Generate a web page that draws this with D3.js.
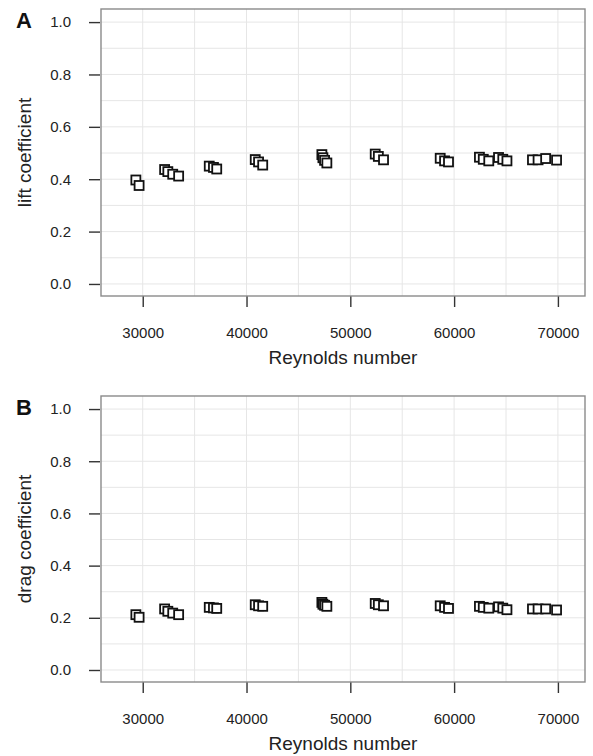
<!DOCTYPE html>
<html>
<head>
<meta charset="utf-8">
<script src="https://d3js.org/d3.v7.min.js"></script>
<style>
body { margin: 0; background: #fff; }
text { font-family: "Liberation Sans", Arial, Helvetica, sans-serif; fill: #222; }
.grid line { stroke: #e6e6e6; stroke-width: 1; }
.frame { fill: none; stroke: #8a8a8a; stroke-width: 1.4; }
.axis path { display: none; }
.axis line { stroke: #333; stroke-width: 1.4; }
.axis text { font-size: 15px; fill: #222; }
.pt { fill: #fff; stroke: #111; stroke-width: 1.8; }
</style>
</head>
<body>
<svg width="593" height="756"></svg>
<script>

var reynolds = [29340, 29650,
    32110, 32420, 32890, 33460,
    36410, 36815, 37130,
    40840, 41160, 41560,
    47260, 47360, 47520, 47740,
    52400, 52700, 53200,
    58660, 59080, 59460,
    62440, 62810, 63340, 64280, 64690, 65090,
    67550, 68090, 68820, 69870];

var lift = [0.397, 0.376,
    0.437, 0.429, 0.419, 0.412,
    0.450, 0.445, 0.439,
    0.475, 0.466, 0.454,
    0.494, 0.482, 0.472, 0.462,
    0.496, 0.487, 0.474,
    0.480, 0.470, 0.466,
    0.484, 0.476, 0.470, 0.483, 0.476, 0.470,
    0.474, 0.474, 0.479, 0.473];

var drag = [0.212, 0.202,
    0.234, 0.225, 0.218, 0.212,
    0.240, 0.238, 0.236,
    0.250, 0.246, 0.244,
    0.259, 0.252, 0.248, 0.244,
    0.255, 0.250, 0.246,
    0.246, 0.240, 0.236,
    0.244, 0.240, 0.237, 0.242, 0.237, 0.231,
    0.234, 0.234, 0.234, 0.230];

var xTicks = [30000, 40000, 50000, 60000, 70000];
var yTicks = [0, 0.2, 0.4, 0.6, 0.8, 1.0];
var xGrid = [30000, 35000, 40000, 45000, 50000, 55000, 60000, 65000, 70000];
var yGrid = [0, 0.1, 0.2, 0.3, 0.4, 0.5, 0.6, 0.7, 0.8, 0.9, 1.0];

var svg = d3.select("svg");

var left = 101, right = 585, size = 9;

var x = d3.scaleLinear()
    .domain([25980, 72610])
    .range([left, right]);

var panels = [
  {letter: "A", title: "lift coefficient", values: lift, top: 9, bottom: 296},
  {letter: "B", title: "drag coefficient", values: drag, top: 396, bottom: 682}
];

panels.forEach(function(p) {
  var y = d3.scaleLinear()
      .domain([-0.046, 1.05])
      .range([p.bottom, p.top]);

  var g = svg.append("g");

  var grid = g.append("g").attr("class", "grid");
  grid.selectAll(".gx")
    .data(xGrid)
    .enter().append("line")
      .attr("x1", function(d) { return x(d); })
      .attr("x2", function(d) { return x(d); })
      .attr("y1", p.top)
      .attr("y2", p.bottom);
  grid.selectAll(".gy")
    .data(yGrid)
    .enter().append("line")
      .attr("x1", left)
      .attr("x2", right)
      .attr("y1", function(d) { return y(d); })
      .attr("y2", function(d) { return y(d); });

  g.append("g")
      .attr("class", "axis")
      .attr("transform", "translate(" + (left - 1) + ",0)")
      .call(d3.axisLeft(y).tickValues(yTicks).tickSize(11).tickPadding(18)
        .tickFormat(d3.format(".1f")));

  g.append("g")
      .attr("class", "axis")
      .attr("transform", "translate(0," + p.bottom + ")")
      .call(d3.axisBottom(x).tickValues(xTicks).tickSize(11).tickPadding(20)
        .tickFormat(d3.format("d")));

  g.append("rect")
      .attr("class", "frame")
      .attr("x", left)
      .attr("y", p.top)
      .attr("width", right - left)
      .attr("height", p.bottom - p.top);

  g.append("g")
    .selectAll("rect")
    .data(reynolds)
    .enter().append("rect")
      .attr("class", "pt")
      .attr("x", function(d) { return x(d) - size / 2; })
      .attr("y", function(d, i) { return y(p.values[i]) - size / 2; })
      .attr("width", size)
      .attr("height", size);

  g.append("text")
      .attr("x", 16)
      .attr("y", p.top + 19)
      .style("font-size", "22px")
      .style("font-weight", "bold")
      .style("fill", "#111")
      .text(p.letter);

  g.append("text")
      .attr("transform", "translate(31," + ((p.top + p.bottom) / 2) + ") rotate(-90)")
      .attr("text-anchor", "middle")
      .style("font-size", "19px")
      .text(p.title);

  g.append("text")
      .attr("x", (left + right) / 2)
      .attr("y", p.bottom + 68)
      .attr("text-anchor", "middle")
      .style("font-size", "19px")
      .text("Reynolds number");
});

</script>
</body>
</html>
